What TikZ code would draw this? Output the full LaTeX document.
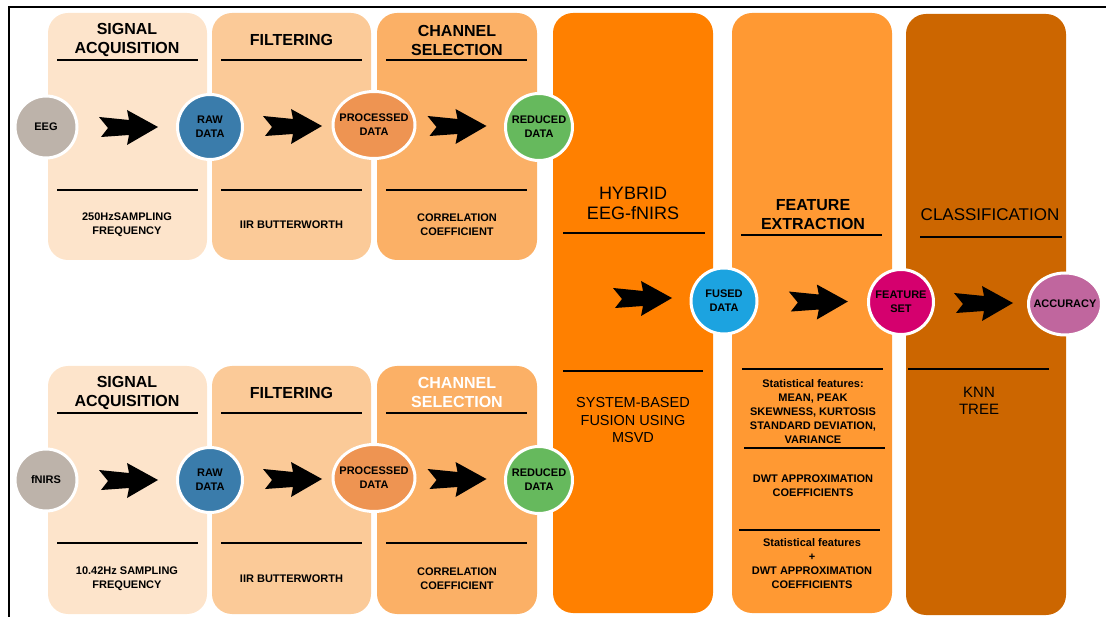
\documentclass[tikz,border=0pt]{standalone}
\usepackage{fontspec}
\setmainfont{Liberation Sans}
\usetikzlibrary{positioning,calc,shapes.geometric}

\definecolor{sigacq}{HTML}{FDE4CB}
\definecolor{filt}{HTML}{FBCA98}
\definecolor{chansel}{HTML}{FBB066}
\definecolor{hybrid}{HTML}{FF8000}
\definecolor{featext}{HTML}{FF9933}
\definecolor{classif}{HTML}{CC6600}
\definecolor{srcgray}{HTML}{BDB3AA}
\definecolor{rawblue}{HTML}{3A7CAB}
\definecolor{procorange}{HTML}{EE9452}
\definecolor{redgreen}{HTML}{66B95D}
\definecolor{fusedblue}{HTML}{1CA3E0}
\definecolor{fsetpink}{HTML}{D5006E}
\definecolor{accmauve}{HTML}{C0669E}

\tikzset{
  panel/.style={fill=#1, rounded corners=20pt},
  rule/.style={line width=1.6pt},
  head/.style={font=\bfseries\fontsize{16}{19}\selectfont, align=center, inner sep=0pt},
  note/.style={font=\bfseries\fontsize{11}{14}\selectfont, align=center, inner sep=0pt},
  dot/.style={circle, fill=#1, draw=white, line width=3pt, inner sep=0pt},
  oval/.style={ellipse, fill=#1, draw=white, line width=3pt, inner sep=0pt},
  dottext/.style={font=\bfseries\fontsize{11}{14}\selectfont, align=center, inner sep=0pt},
  fatarrow/.pic={
    \fill[black] (-29,-10) -- (1,-7) -- (-1,-17) -- (30,0) -- (-1,18)
      -- (1,8) -- (-27,10) -- (-20,1) -- cycle;}
}

\begin{document}
\begin{tikzpicture}[x=1pt,y=-1pt]
  \useasboundingbox (0,0) rectangle (1106,617);
  \draw[line width=2pt] (1106,7) -- (9,7) -- (9,617);
  % panels
  \fill[panel=sigacq]  (48,13)  rectangle (207,260);
  \fill[panel=filt]    (212,13) rectangle (371,260);
  \fill[panel=chansel] (377,13) rectangle (537,260);
  \fill[panel=sigacq]  (48,366)  rectangle (207,614);
  \fill[panel=filt]    (212,366) rectangle (371,614);
  \fill[panel=chansel] (377,366) rectangle (537,614);
  \fill[panel=hybrid]  (553,13) rectangle (713,613);
  \fill[panel=featext] (732,13) rectangle (892,613);
  \fill[panel=classif] (906,14) rectangle (1066,615);
  %
  \draw[rule] (57,60) -- (198,60);   \draw[rule] (57,190) -- (198,190);
  \draw[rule] (221,60) -- (362,60);  \draw[rule] (221,190) -- (362,190);
  \draw[rule] (386,60) -- (527,60);  \draw[rule] (386,190) -- (527,190);
  \draw[rule] (57,413) -- (198,413);   \draw[rule] (57,543) -- (198,543);
  \draw[rule] (221,413) -- (362,413);  \draw[rule] (221,543) -- (362,543);
  \draw[rule] (386,413) -- (527,413);  \draw[rule] (386,543) -- (527,543);
  \draw[rule] (563,233) -- (705,233);  \draw[rule] (563,371) -- (703,371);
  \draw[rule] (741,235) -- (882,235);  \draw[rule] (742,369) -- (883,369);
  \draw[rule] (744,448) -- (885,448);  \draw[rule] (739,530) -- (880,530);
  \draw[rule] (920,237) -- (1062,237); \draw[rule] (908,369) -- (1049,369);
  % EEG row
  \node[head] (sighead-t) at (127,39.5) {SIGNAL\\ACQUISITION};
  \node[head] (filthead-t) at (291.5,40) {FILTERING};
  \node[head] (chanhead-t) at (457,40) {CHANNEL\\SELECTION};
  \node[note] (signote-t) at (127,225) {250HzSAMPLING\\FREQUENCY};
  \node[note] (filtnote-t) at (291.5,225) {IIR BUTTERWORTH};
  \node[note] (channote-t) at (457,225) {CORRELATION\\COEFFICIENT};
  % fNIRS row
  \node[head] (sighead-b) at (127,392.5) {SIGNAL\\ACQUISITION};
  \node[head] (filthead-b) at (291.5,393) {FILTERING};
  \node[head, text=white] (chanhead-b) at (457,392.5) {CHANNEL\\SELECTION};
  \node[note] (signote-b) at (127,578.5) {10.42Hz SAMPLING\\FREQUENCY};
  \node[note] (filtnote-b) at (291.5,578.5) {IIR BUTTERWORTH};
  \node[note] (channote-b) at (457,578.5) {CORRELATION\\COEFFICIENT};
  %
  \node[align=center, inner sep=0pt, font=\fontsize{18}{20}\selectfont] (hybhead) at (633,203) {HYBRID\\EEG-fNIRS};
  \node[align=center, inner sep=0pt, font=\fontsize{14.5}{17.5}\selectfont] (hybnote) at (633,420.5) {SYSTEM-BASED\\FUSION USING\\MSVD};
  \node[head] (feathead) at (813,214.5) {FEATURE\\EXTRACTION};
  \node[note] (statnote) at (813,411.5) {Statistical features:\\MEAN, PEAK\\SKEWNESS, KURTOSIS\\STANDARD DEVIATION,\\VARIANCE};
  \node[note] (dwtnote) at (813,486) {DWT APPROXIMATION\\COEFFICIENTS};
  \node[note] (combnote) at (812,564) {Statistical features\\+\\DWT APPROXIMATION\\COEFFICIENTS};
  \node[inner sep=0pt, font=\fontsize{17}{20}\selectfont] (classhead) at (990,215) {CLASSIFICATION};
  \node[align=center, inner sep=0pt, font=\fontsize{15}{17}\selectfont] (classnote) at (979,400.5) {KNN\\TREE};
  % data nodes
  \node[dot=srcgray, minimum size=62pt] (eeg) at (46,127) {};
  \node[dot=rawblue, minimum size=65pt] (raw-t) at (210,127) {};
  \node[oval=procorange, minimum width=82pt, minimum height=67pt] (proc-t) at (374,125) {};
  \node[dot=redgreen, minimum size=67pt] (red-t) at (539,127) {};
  \node[dot=srcgray, minimum size=62pt] (fnirs) at (46,480) {};
  \node[dot=rawblue, minimum size=65pt] (raw-b) at (210,480) {};
  \node[oval=procorange, minimum width=82pt, minimum height=67pt] (proc-b) at (374,478) {};
  \node[dot=redgreen, minimum size=67pt] (red-b) at (539,480) {};
  \node[dot=fusedblue, minimum size=66pt] (fused) at (724,301) {};
  \node[dot=fsetpink, minimum size=65pt] (fset) at (901,302) {};
  \node[oval=accmauve, minimum width=73pt, minimum height=62pt] (acc) at (1065,304) {};
  %
  \node[dottext] at (eeg) {EEG};
  \node[dottext] at (raw-t) {RAW\\DATA};
  \node[dottext] at (proc-t) {PROCESSED\\DATA};
  \node[dottext] at (red-t) {REDUCED\\DATA};
  \node[dottext] at (fnirs) {fNIRS};
  \node[dottext] at (raw-b) {RAW\\DATA};
  \node[dottext] at (proc-b) {PROCESSED\\DATA};
  \node[dottext] at (red-b) {REDUCED\\DATA};
  \node[dottext] at (fused) {FUSED\\DATA};
  \node[dottext] at (fset) {FEATURE\\SET};
  \node[dottext] at (acc) {ACCURACY};
  % arrows
  \pic at ($(eeg)!.5!(raw-t)$) {fatarrow};
  \pic at ($(raw-t)!.5!(proc-t)$) {fatarrow};
  \pic at ($(proc-t)!.5!(red-t)$) {fatarrow};
  \pic at ($(fnirs)!.5!(raw-b)$) {fatarrow};
  \pic at ($(raw-b)!.5!(proc-b)$) {fatarrow};
  \pic at ($(proc-b)!.5!(red-b)$) {fatarrow};
  \pic at ($(fused)+(-82,-3)$) {fatarrow};
  \pic at ($(fused)!.53!(fset)$) {fatarrow};
  \pic at ($(fset)!.5!(acc)$) {fatarrow};
\end{tikzpicture}
\end{document}
